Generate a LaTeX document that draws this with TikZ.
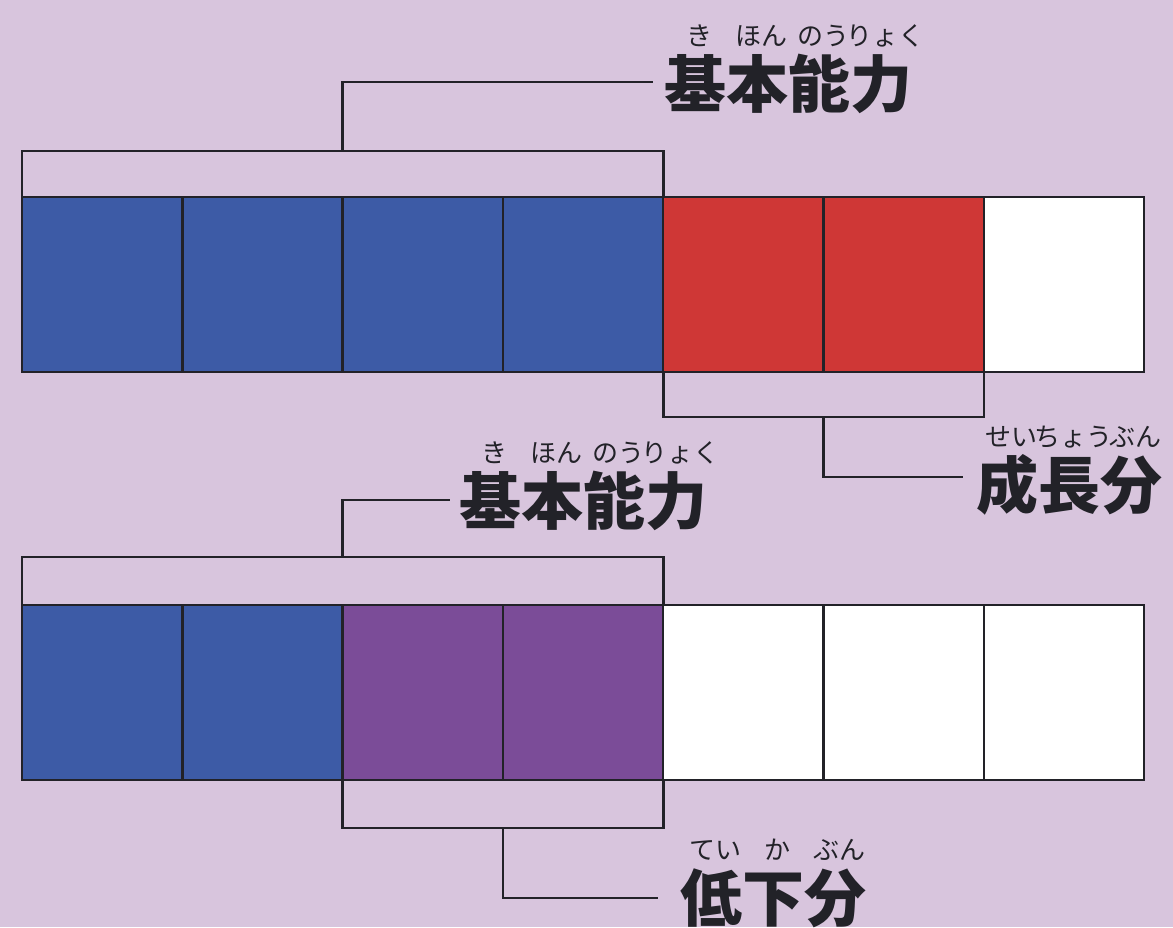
\documentclass[tikz,border=0pt]{standalone}
\usepackage{fontspec}
\newfontfamily\jp{Noto Sans CJK JP}
\definecolor{bg}{HTML}{D8C5DD}
\definecolor{cblue}{HTML}{3D5BA6}
\definecolor{cred}{HTML}{CF3736}
\definecolor{cpurple}{HTML}{7B4C98}
\definecolor{ink}{HTML}{222228}
\newcommand\rk[2]{\hbox to 62pt{\hss#1\hss}\llap{\hbox to 62pt{\hss\kern8pt\raise62pt\hbox{\fontsize{26}{26}\selectfont\mdseries #2}\hss}}}
\begin{document}
\begin{tikzpicture}[x=1pt,y=-1pt,
  cell/.style={draw=ink, line width=2.4pt, minimum width=160.3pt, minimum height=175pt, inner sep=0pt, outer sep=0pt, anchor=north west},
  brk/.style={draw=ink, line width=2.6pt},
  lab/.style={anchor=base west, inner sep=0pt, text=ink, font={\jp\bfseries\fontsize{62}{62}\selectfont}}]
\fill[bg] (0,0) rectangle (1173,927);
\useasboundingbox (0,0) rectangle (1173,927);
% top row
\foreach \i/\c in {1/cblue,2/cblue,3/cblue,4/cblue,5/cred,6/cred,7/white}
  \node[cell, fill=\c] (t\i) at ({22+160.3*(\i-1)},197) {};
% bottom row
\foreach \i/\c in {1/cblue,2/cblue,3/cpurple,4/cpurple,5/white,6/white,7/white}
  \node[cell, fill=\c] (b\i) at ({22+160.3*(\i-1)},605) {};
% line ends
\coordinate (e1) at (653,82);
\coordinate (e2) at (963,477);
\coordinate (e3) at (450,500);
\coordinate (e4) at (658,898);
% brackets
\draw[brk] (t1.north west) |- ([yshift=46pt]t4.north east) -- (t4.north east);
\draw[brk] ([yshift=46pt]t3.north west) |- (e1);
\draw[brk] (t5.south west) |- ([yshift=-45pt]t6.south east) -- (t6.south east);
\draw[brk] ([yshift=-45pt]t6.south west) |- (e2);
\draw[brk] (b1.north west) |- ([yshift=48pt]b4.north east) -- (b4.north east);
\draw[brk] ([yshift=48pt]b3.north west) |- (e3);
\draw[brk] (b3.south west) |- ([yshift=-48pt]b4.south east) -- (b4.south east);
\draw[brk] ([yshift=-48pt]b4.south west) |- (e4);
% labels
\node[lab] (L1) at (664,107) {\rk{基}{き}\rk{本}{ほん}\rk{能}{のう}\rk{力}{りょく}};
\node[lab] (L2) at (976,508) {\rk{成}{せい}\rk{長}{ちょう}\rk{分}{ぶん}};
\node[lab] (L3) at (459,524) {\rk{基}{き}\rk{本}{ほん}\rk{能}{のう}\rk{力}{りょく}};
\node[lab] (L4) at (680,921) {\rk{低}{てい}\rk{下}{か}\rk{分}{ぶん}};
\end{tikzpicture}
\end{document}
